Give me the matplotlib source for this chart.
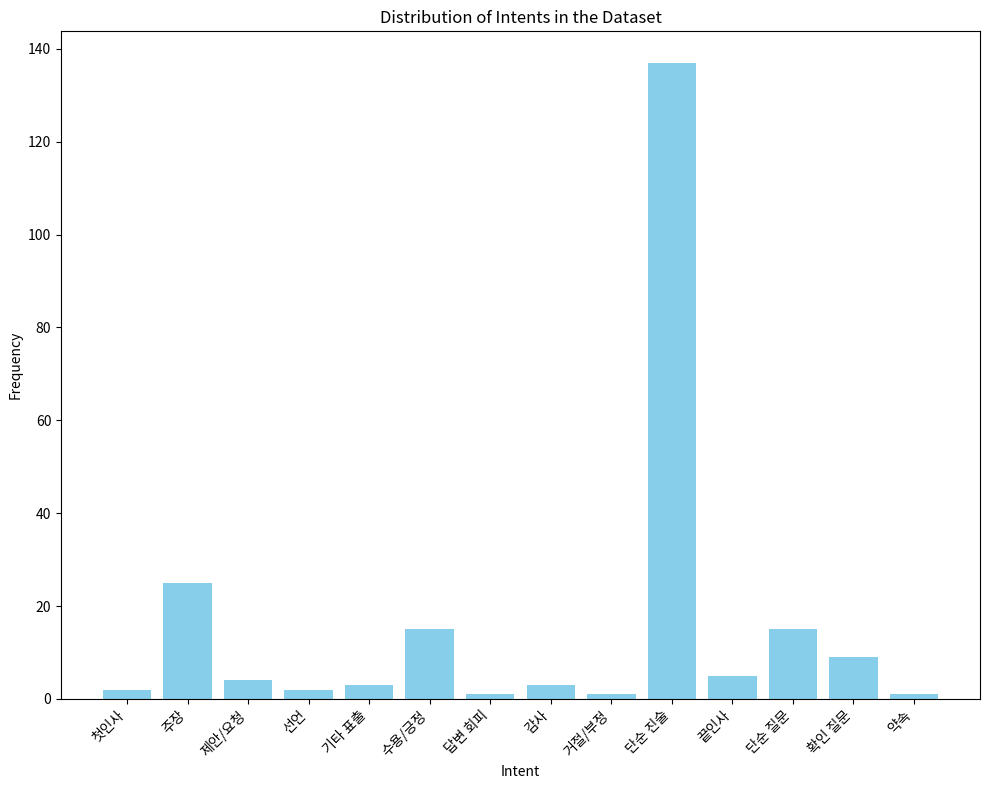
import matplotlib
matplotlib.use("Agg")
import matplotlib.pyplot as plt

plt.rcParams['font.family'] = ['Noto Sans CJK KR', 'DejaVu Sans']

intents = ['첫인사', '주장', '제안/요청', '선언', '기타 표출', '수용/긍정', '답변 회피',
           '감사', '거절/부정', '단순 진술', '끝인사', '단순 질문', '확인 질문', '약속']
counts = [2, 25, 4, 2, 3, 15, 1, 3, 1, 137, 5, 15, 9, 1]

fig = plt.figure(figsize=(9.89, 7.9), dpi=100)
plt.bar(intents, counts, color='skyblue')
plt.title('Distribution of Intents in the Dataset')
plt.xlabel('Intent')
plt.ylabel('Frequency')
plt.xticks(rotation=45, ha='right')
# match the reference's axes box
plt.subplots_adjust(left=0.0617, right=0.9909, top=0.9608, bottom=0.1152)
plt.savefig('out.png')
